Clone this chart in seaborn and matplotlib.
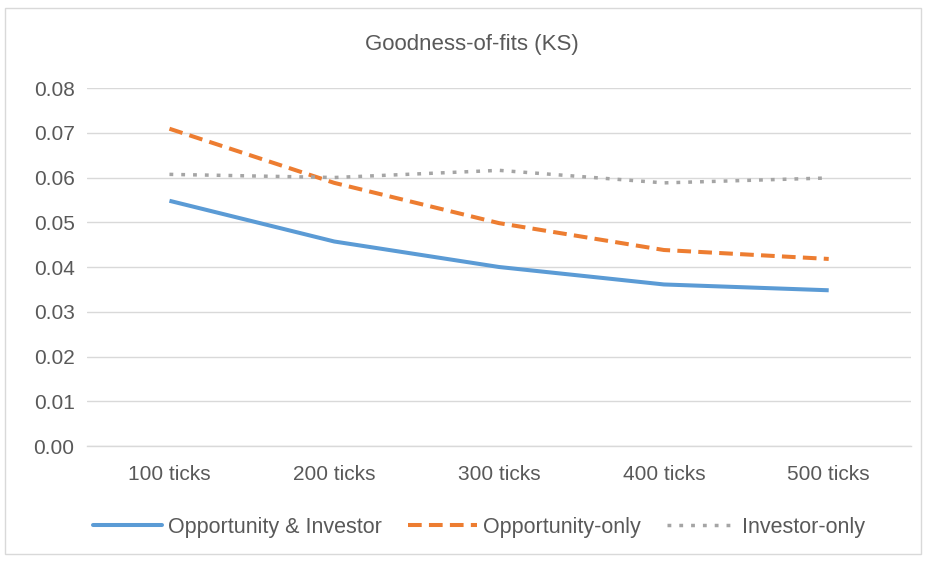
import matplotlib
matplotlib.use("Agg")
import matplotlib.pyplot as plt
import seaborn as sns
import pandas as pd
from matplotlib.patches import Rectangle
from matplotlib.lines import Line2D

categories = ["100 ticks", "200 ticks", "300 ticks", "400 ticks", "500 ticks"]
opp_inv = [0.0548, 0.0457, 0.0400, 0.0361, 0.0348]
opp_only = [0.0709, 0.0588, 0.0498, 0.0438, 0.0418]
inv_only = [0.0607, 0.0600, 0.0616, 0.0588, 0.0599]
series_names = ["Opportunity & Investor", "Opportunity-only", "Investor-only"]
yticks = [0.00, 0.01, 0.02, 0.03, 0.04, 0.05, 0.06, 0.07, 0.08]

df = pd.DataFrame({
    "cat": categories * 3,
    "val": opp_inv + opp_only + inv_only,
    "series": [series_names[0]] * 5 + [series_names[1]] * 5 + [series_names[2]] * 5,
})

sns.set_theme(style="white")
plt.rcParams["font.family"] = ["Liberation Sans", "DejaVu Sans"]
text_col = "#595959"
fs = 15

fig = plt.figure(figsize=(9.28, 5.62), dpi=100)
ax = fig.add_axes([0.0938, 0.2064, 0.888, 0.637])

palette = {series_names[0]: "#5b9bd5", series_names[1]: "#ed7d31", series_names[2]: "#a5a5a5"}
sns.lineplot(data=df, x="cat", y="val", hue="series", palette=palette, ax=ax,
             sort=False, legend=False)
lines = ax.get_lines()
lines[0].set_linewidth(2.9)
lines[0].set_solid_capstyle("butt")
lines[1].set_linewidth(2.9)
lines[1].set_dashes([3.4, 1.8])
lines[2].set_linewidth(2.5)
lines[2].set_dashes([1.1, 2.3])

ax.set_xlim(-0.5, 4.5)
ax.set_ylim(0, 0.08)
ax.set_yticks(yticks)
ax.set_yticklabels([f"{v:.2f}" for v in yticks])
ax.yaxis.grid(True, color="#d9d9d9", linewidth=1.0)
ax.xaxis.grid(False)
for s in ["top", "right", "left"]:
    ax.spines[s].set_visible(False)
ax.spines["bottom"].set_color("#d9d9d9")
ax.spines["bottom"].set_linewidth(1.0)
ax.tick_params(axis="both", length=0, labelsize=fs, colors=text_col)
ax.tick_params(axis="x", pad=14)
ax.tick_params(axis="y", pad=9)
ax.set_xlabel("")
ax.set_ylabel("")

fig.text(0.508, 0.92, "Goodness-of-fits (KS)", ha="center", va="center",
         fontsize=16, color=text_col)

handles = [
    Line2D([], [], color=palette[series_names[0]], linewidth=2.9),
    Line2D([], [], color=palette[series_names[1]], linewidth=2.9, dashes=[3.4, 1.8]),
    Line2D([], [], color=palette[series_names[2]], linewidth=2.5, dashes=[1.1, 2.3]),
]
leg = fig.legend(handles, series_names, loc="center", bbox_to_anchor=(0.516, 0.062),
                 ncol=3, frameon=False, fontsize=15.5, handlelength=3.2,
                 handletextpad=0.3, columnspacing=1.2)
for t in leg.get_texts():
    t.set_color(text_col)

fig.patches.append(Rectangle((5 / 928, 1 - 554 / 562), 916 / 928, 546 / 562,
                             transform=fig.transFigure, fill=False,
                             edgecolor="#d9d9d9", linewidth=1.0))

fig.savefig("out.png", dpi=100)
